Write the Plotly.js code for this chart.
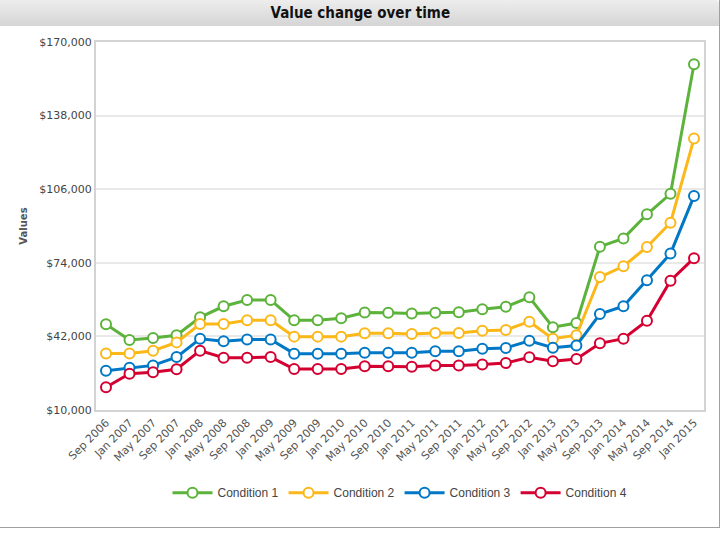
<!DOCTYPE html>
<html>
<head>
<meta charset="utf-8">
<script src="https://cdn.plot.ly/plotly-3.0.1.min.js"></script>
<style>
  html, body { margin: 0; padding: 0; background: #ffffff; }
  #wrap { position: relative; width: 725px; height: 533px; overflow: hidden; }
  #bar { position: absolute; left: 0; top: 0; width: 719px; height: 26px;
         background: linear-gradient(#ededed, #d5d5d5); border-top-right-radius: 4px; }
  #frame { position: absolute; left: 0; top: 0; width: 719px; height: 527px;
           border-right: 1px solid #a0a0a0; border-bottom: 1px solid #a0a0a0; }
  #chart { position: absolute; left: 0; top: 0; width: 725px; height: 533px; }
</style>
</head>
<body>
<div id="wrap">
  <div id="bar"></div>
  <div id="frame"></div>
  <div id="chart"></div>
</div>
<script>
const categories = ["Sep 2006","Jan 2007","May 2007","Sep 2007","Jan 2008","May 2008","Sep 2008","Jan 2009",
  "May 2009","Sep 2009","Jan 2010","May 2010","Sep 2010","Jan 2011","May 2011","Sep 2011","Jan 2012",
  "May 2012","Sep 2012","Jan 2013","May 2013","Sep 2013","Jan 2014","May 2014","Sep 2014","Jan 2015"];

const condition1 = [47300,40400,41300,42500,50300,55100,57800,57800,49000,49000,49900,52400,52300,52000,
  52300,52500,53800,54900,59000,46000,47800,81000,84600,95100,104000,160300];
const condition2 = [34600,34600,35800,39400,47400,47400,49000,49000,41900,41900,41900,43400,43400,43000,
  43500,43500,44500,44800,48400,41000,42500,67800,72500,80900,91400,128000];
const condition3 = [27100,28400,29400,33000,41000,39900,40700,40700,34500,34500,34500,34900,34900,34900,
  35500,35500,36600,37000,40100,37100,38000,51700,55100,66400,78000,103000];
const condition4 = [19900,25800,26400,27700,35800,32700,32700,33000,27800,27800,27800,29000,29000,28800,
  29300,29300,29800,30400,32900,31200,32200,39000,41000,48800,66200,76000];

const seriesNames = ["Condition 1","Condition 2","Condition 3","Condition 4"];
const seriesColors = ["#5cb33b","#fbb818","#0078c6","#d50032"];
const seriesValues = [condition1, condition2, condition3, condition4];

const yTicks = [10000,42000,74000,106000,138000,170000];

const traces = seriesValues.map((vals, i) => ({
  type: "scatter",
  mode: "lines+markers",
  name: seriesNames[i],
  x: categories,
  y: vals,
  line: { color: seriesColors[i], width: 3 },
  marker: { symbol: "circle", size: 10, color: "#ffffff", line: { color: seriesColors[i], width: 2 } },
  hoverinfo: "x+y+name"
}));

const layout = {
  width: 725, height: 533,
  paper_bgcolor: "rgba(0,0,0,0)",
  plot_bgcolor: "#ffffff",
  margin: { l: 96, r: 21, t: 42, b: 123 },
  title: {
    text: "<b>Value change over time</b>",
    font: { family: "DejaVu Sans Condensed, Liberation Sans Narrow, Arial Narrow, sans-serif", size: 15, color: "#111111" },
    x: 0.497, xref: "container", xanchor: "center",
    y: 1 - 13 / 533, yref: "container", yanchor: "middle"
  },
  xaxis: {
    type: "category",
    range: [-0.425, 25.425],
    tickangle: -45,
    showgrid: false,
    ticks: "",
    showline: true, mirror: true, linecolor: "#d3d3d3", linewidth: 2,
    tickfont: { family: "DejaVu Sans, Verdana, sans-serif", size: 11, color: "#555555" },
    zeroline: false
  },
  yaxis: {
    range: [10000, 170000],
    tickvals: yTicks,
    tickformat: "$,",
    showgrid: true, gridcolor: "#e9e9e9", gridwidth: 2,
    ticks: "",
    showline: true, mirror: true, linecolor: "#d3d3d3", linewidth: 2,
    zeroline: false,
    tickfont: { family: "DejaVu Sans, Verdana, sans-serif", size: 11, color: "#444444" },
    title: { text: "<b>Values</b>", standoff: 10,
             font: { family: "DejaVu Sans, Verdana, sans-serif", size: 10, color: "#555555" } }
  },
  showlegend: true,
  legend: {
    orientation: "h",
    x: 0.5, xanchor: "center",
    y: -0.225, yanchor: "middle",
    font: { family: "Liberation Sans, Arial, sans-serif", size: 12, color: "#444444" },
    itemwidth: 40,
    bgcolor: "rgba(0,0,0,0)"
  }
};

Plotly.newPlot("chart", traces, layout, { displayModeBar: false, staticPlot: false });
</script>
</body>
</html>
